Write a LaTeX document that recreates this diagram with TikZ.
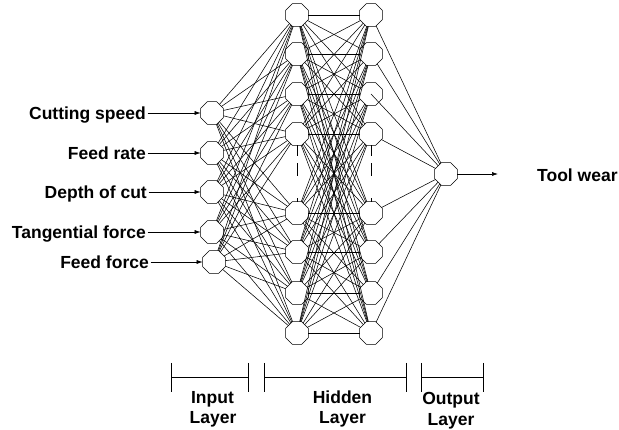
\documentclass[tikz,border=0pt]{standalone}
\usepackage{fontspec}
\setmainfont{Liberation Sans}
\usetikzlibrary{shapes.geometric,arrows.meta}
\begin{document}
\begin{tikzpicture}[x=1pt,y=-1pt,
  neuron/.style={draw,regular polygon,regular polygon sides=8,minimum size=24.5pt,inner sep=0pt,outer sep=0pt,line width=0.6pt},
  conn/.style={line width=0.55pt},
  inarrow/.style={line width=0.6pt,-{Latex[length=6pt,width=4pt]}},
  lbl/.style={font=\fontsize{17.5}{20}\selectfont\bfseries,inner sep=0pt,text height=12.5pt,text depth=0pt},
  bracket/.style={line width=0.8pt}
  ]
\useasboundingbox (0,0) rectangle (619,430);
% input layer
\foreach \i/\y/\t/\tx/\nx in {1/113/Cutting speed/146/212, 2/153/Feed rate/146/212, 3/192/Depth of cut/147/212, 4/232/Tangential force/146/212, 5/262/Feed force/149/214}{
  \node[neuron] (i\i) at (\nx,\y) {};
  \node[lbl,anchor=east] (t\i) at (\tx,\y) {\t};
  \draw[inarrow,shorten <=1.5pt] (t\i) -- (i\i);
}
% hidden layers
\foreach \j/\y in {1/15,2/54,3/94,4/134,5/213,6/252,7/293,8/333}{
  \node[neuron] (ha\j) at (297,\y) {};
  \node[neuron] (hb\j) at (371,\y) {};
}
% output
\node[neuron] (o) at (446,174) {};
\coordinate (tw) at (498,174);
\node[lbl,anchor=west] (twl) at (537,175.5) {Tool wear};
\draw[inarrow] (o) -- (tw);
% connections
\foreach \i in {1,...,5}{\foreach \j in {1,...,8}{\draw[conn] (i\i) -- (ha\j);}}
\foreach \j in {1,...,8}{\foreach \k in {1,...,8}{\draw[conn] (ha\j) -- (hb\k);}}
\foreach \k in {1,2,4,5,6,7,8}{\draw[conn] (hb\k) -- (o);}
\draw[conn] (hb3.center) -- (o);
% dashes
\draw[conn,dash pattern=on 11pt off 7pt on 13pt off 22pt on 8pt] (ha4) -- (ha5);
\draw[conn,dash pattern=on 11pt off 7pt on 13pt off 22pt on 8pt] (hb4) -- (hb5);
% brackets
\draw[bracket] (171,363) -- (171,392) (171,377) -- (248,377) (248,363) -- (248,392);
\draw[bracket] (264,363) -- (264,392) (264,377) -- (406,377) (406,363) -- (406,392);
\draw[bracket] (421,363) -- (421,392) (421,377) -- (483,377) (483,363) -- (483,392);
% layer labels
\node[lbl,anchor=base] (l1a) at (212.5,404) {Input};
\node[lbl,anchor=base] (l1b) at (213,424) {Layer};
\node[lbl,anchor=base] (l2a) at (342.5,404) {Hidden};
\node[lbl,anchor=base] (l2b) at (342.5,424) {Layer};
\node[lbl,anchor=base] (l3a) at (451,405) {Output};
\node[lbl,anchor=base] (l3b) at (451,426) {Layer};
\end{tikzpicture}
\end{document}
